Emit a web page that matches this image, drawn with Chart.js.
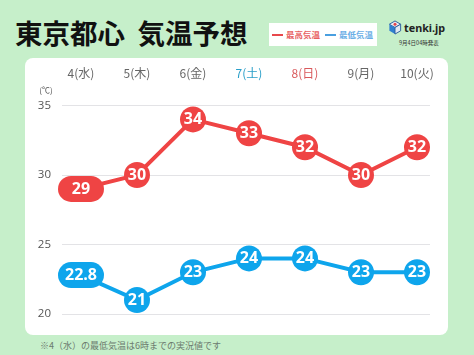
<!DOCTYPE html>
<html>
<head>
<meta charset="utf-8">
<script src="https://cdn.jsdelivr.net/npm/chart.js@4"></script>
<style>
html,body{margin:0;padding:0;}
body{width:474px;height:355px;background:#c6efca;position:relative;overflow:hidden;font-family:"Noto Sans CJK JP",sans-serif;}
#card{position:absolute;left:25px;top:58px;width:423px;height:277px;background:#fff;border-radius:8px;}
#wrap{position:absolute;left:0;top:0;width:474px;height:355px;}
#title{position:absolute;left:15px;top:12px;font-size:27.5px;line-height:40px;font-weight:700;color:#111;white-space:pre;}
#legend{position:absolute;left:269px;top:23px;width:108px;height:23px;background:#fff;font-size:8.5px;line-height:23px;font-weight:700;}
#legend span{position:absolute;top:0;white-space:nowrap;}
#legend i{position:absolute;top:11px;width:11px;height:2px;}
#logo{position:absolute;left:388px;top:20px;}
#brand{position:absolute;left:404px;top:18px;font:700 10.8px/20px "Noto Sans",sans-serif;color:#222;}
#issued{position:absolute;left:399px;top:39px;font-size:5.5px;line-height:9px;color:#333;white-space:nowrap;}
#note{position:absolute;left:40px;top:339px;font-size:9px;line-height:14px;color:#6b7a6e;white-space:nowrap;}
</style>
</head>
<body>
<div id="card"></div>
<div id="title">東京都心  気温予想</div>
<div id="legend">
  <i style="left:3px;background:#e8484c"></i><span style="left:17px;color:#e8605f">最高気温</span>
  <i style="left:56px;background:#4a9fe0"></i><span style="left:70px;color:#6aaee6">最低気温</span>
</div>
<svg id="logo" width="14" height="15" viewBox="0 0 14 16">
  <path d="M7 1 13 4.5 7 8 1 4.5Z" fill="#e9ecf2" stroke="#2c5c9c" stroke-width="1"/>
  <path d="M1 4.5 7 8V15L1 11.5Z" fill="#2f7fd0"/>
  <path d="M13 4.5 7 8V15L13 11.5Z" fill="#dfe8f4" stroke="#2c5c9c" stroke-width="1"/>
  <circle cx="7" cy="4.5" r="1.6" fill="#e2444a"/>
</svg>
<div id="brand">tenki.jp</div>
<div id="issued">9月4日04時発表</div>
<div id="note">※4（水）の最低気温は6時までの実況値です</div>
<div id="wrap"><canvas id="myChart" width="474" height="355"></canvas></div>
<script>
const days = ['4(水)','5(木)','6(金)','7(土)','8(日)','9(月)','10(火)'];
const dayColors = ['#666','#666','#666','#2a9fc9','#d9595c','#666','#666'];
const highTemps = [29,30,34,33,32,30,32];
const lowTemps = [22.8,21,23,24,24,23,23];
const yTicks = [20,25,30,35];
const red = '#ef4444';
const blue = '#0ea5ec';

// temperature bubbles, 22.8 and 29 get the wide pill
const bubbleLabels = {
  id: 'bubbleLabels',
  afterDatasetsDraw(chart) {
    const c = chart.ctx;
    chart.data.datasets.forEach((ds, i) => {
      chart.getDatasetMeta(i).data.forEach((pt, j) => {
        if (j === 0) {
          c.fillStyle = ds.borderColor;
          c.beginPath();
          c.roundRect(pt.x - 23, pt.y - 13, 46, 26, 13);
          c.fill();
        }
        c.fillStyle = '#fff';
        c.font = '700 16px "Open Sans", sans-serif';
        c.textAlign = 'center';
        c.textBaseline = 'middle';
        c.fillText(ds.data[j].y, pt.x, pt.y + 0.5);
      });
    });
  }
};

const unitLabel = {
  id: 'unitLabel',
  afterDraw(chart) {
    const c = chart.ctx;
    c.fillStyle = '#555';
    c.font = '8px "Noto Sans CJK JP", sans-serif';
    c.textAlign = 'center';
    c.textBaseline = 'middle';
    c.fillText('(℃)', 46, 90);
  }
};

function series(label, values, color) {
  return {
    label: label,
    data: values.map((v, i) => ({x: i, y: v})),
    borderColor: color,
    backgroundColor: color,
    borderWidth: 4,
    pointRadius: 13,
    pointHoverRadius: 13,
    pointBorderWidth: 0,
    tension: 0
  };
}

new Chart(document.getElementById('myChart'), {
  type: 'line',
  data: {
    datasets: [series('最高気温', highTemps, red), series('最低気温', lowTemps, blue)]
  },
  options: {
    responsive: false,
    animation: false,
    layout: {padding: {left: 0, right: 44, top: 0, bottom: 41}},
    plugins: {legend: {display: false}, tooltip: {enabled: false}},
    scales: {
      x: {
        type: 'linear',
        position: 'top',
        min: -0.339,
        max: 6.232,
        afterBuildTicks(axis) {
          axis.ticks = days.map((d, i) => ({value: i}));
        },
        afterFit(axis) { axis.height = 105.5; },
        grid: {display: false},
        border: {display: false},
        ticks: {
          autoSkip: false,
          maxRotation: 0,
          padding: 17,
          callback: (v) => days[v],
          color: (c) => dayColors[c.index],
          font: {size: 12, family: '"Noto Sans CJK JP", sans-serif'}
        }
      },
      y: {
        min: 20,
        max: 35,
        afterBuildTicks(axis) {
          axis.ticks = yTicks.map((v) => ({value: v}));
        },
        afterFit(axis) { axis.width = 62; },
        grid: {color: '#e3e3e6', lineWidth: 1, drawTicks: false},
        border: {display: false},
        ticks: {
          padding: 11,
          color: '#555',
          font: {size: 11.5, family: '"Open Sans", sans-serif'}
        }
      }
    }
  },
  plugins: [bubbleLabels, unitLabel]
});
</script>
</body>
</html>
